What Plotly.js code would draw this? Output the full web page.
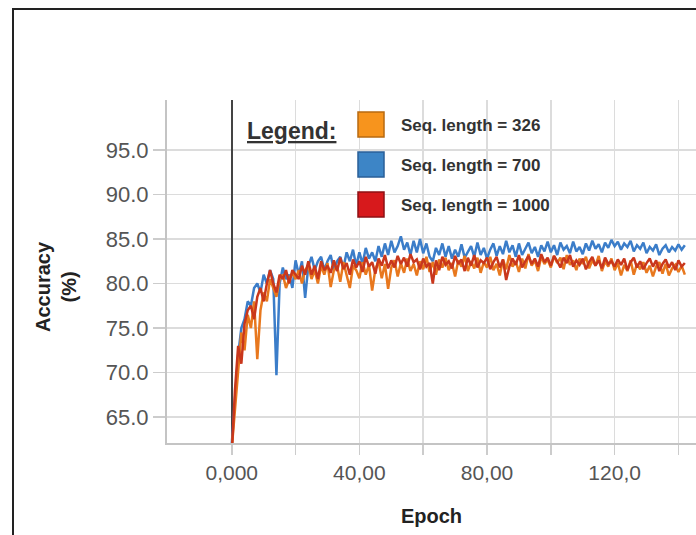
<!DOCTYPE html>
<html>
<head>
<meta charset="utf-8">
<script src="https://cdn.plot.ly/plotly-3.0.1.min.js"></script>
<style>
  html, body { margin: 0; padding: 0; background: #fff; overflow: hidden; }
  #wrap { position: relative; width: 696px; height: 535px; overflow: hidden; }
  #chart { width: 696px; height: 535px; }
  #probe { position: absolute; left: 684px; top: 12px; width: 12px; height: 86px; background: #fff; }
</style>
</head>
<body>
<div id="wrap">
<div id="chart"></div>
<div id="probe"></div>
</div>
<script>
// ---- Data ----
const seriesNames = ["Seq. length = 326", "Seq. length = 700", "Seq. length = 1000"];

const acc326 = [
  61.5, 66, 71, 74.5, 72.5, 76.5, 75, 78, 71.5, 77,
  79, 78, 80.5, 79.5, 78.5, 80.5, 81, 79.5, 80.5, 81.2,
  80.5, 81.5, 80, 81.5, 82, 80.5, 81.5, 80, 82, 81,
  82.3, 79.6, 81.5, 82, 80.2, 82.4, 81, 79.5, 82, 81.5,
  80.6, 82.4, 81, 82.1, 79.2, 81.6, 82.5, 80.6, 82.2, 79.4,
  81.8, 82.6, 80.8, 82.3, 81.2, 82.8, 81.4, 82.2, 80.9, 82.5,
  81.6, 83, 81.3, 82.4, 81, 82.7, 81.8, 82.9, 81.5, 82.3,
  80.8, 82.6, 81.9, 83.1, 81.4, 82.5, 81.7, 82.9, 81.2, 82.4,
  81.8, 83, 81.5, 82.2, 80.9, 82.7, 81.6, 83.2, 81.9, 82.5,
  81.3, 82.8, 81.7, 83.3, 82, 82.6, 81.4, 83, 82.2, 82.7,
  81.8, 83.1, 82.3, 82.9, 81.6, 83.2, 82.1, 82.6, 81.5, 82.8,
  82.2, 83, 81.7, 82.6, 82, 83.1, 81.4, 82.5, 81.9, 82.8,
  81.5, 82.3, 80.9, 82.1, 81.4, 82.6, 81, 82.2, 81.6, 82.4,
  81.2, 82, 80.8, 81.9, 82.4, 81.1, 82.2, 80.9, 81.7, 82.1,
  81.3, 82, 81
];

const acc700 = [
  62, 67, 72, 75, 76, 78, 77.5, 79.5, 80, 79,
  81, 80, 81.5, 80.5, 69.7, 80, 81.8, 80.5, 81, 79.5,
  82.6, 81, 82.5, 78.4, 82, 83, 81.5, 82.5, 83, 81.5,
  82.5, 83.2, 81.5, 82.5, 83, 81.8, 83.5, 82.5, 83.8, 82,
  83.5, 82.2, 84, 82.8, 83.5, 82.5, 84.2, 83, 84.5, 83.2,
  84.8, 83.5, 84.2, 85.3, 83.8, 84.6, 83.2, 84.8, 83.5, 85,
  83.4, 84.5, 83, 82.5, 84, 83.2, 84.5, 83, 84.2, 82.8,
  83.8, 83, 84.4, 82.9, 83.6, 84.2, 83, 84.6, 83.2, 84,
  82.8, 83.8, 84.5, 83.1, 84.2, 83.3, 84.8, 83.5, 84.3, 83,
  84.5, 83.2, 83.9, 84.6, 83.4, 84.1, 83, 84.3, 83.6, 84.7,
  83.5, 84.3, 83.2, 84.6, 83.8, 84.2, 83.4, 84.7, 83.6, 84.1,
  83.3, 84.5, 83.7, 84.8, 83.9, 84.4, 83.5, 84.6, 84, 84.9,
  84.2, 84.7, 83.8, 84.5, 84.1, 84.8, 83.6, 84.3, 83.9, 84.6,
  83.4, 84.1, 83.7, 84.4, 83.2, 83.9, 84.3, 83.5, 84.1, 83.7,
  84.4, 83.8, 84.3
];

const acc1000 = [
  61, 68, 73, 71, 75.5, 77, 77.5, 76, 78.5, 79.5,
  78, 80, 81.5, 80, 79, 81, 80.5, 81.5, 80, 81.5,
  81, 80.5, 82, 81, 82.5, 81, 82, 80.5, 82.5, 81.5,
  82, 81.2, 82.6, 81.4, 82.9, 81.6, 82.3, 81, 82.7, 81.8,
  82.5, 81.3, 83, 81.9, 82.4, 81.1, 82.8, 82, 83.2, 81.7,
  82.6, 81.8, 83.1, 82.2, 82.9, 81.9, 83.3, 82.4, 82.7, 81.6,
  82.8, 81.9, 82.3, 80, 82.6, 81.5, 83, 82.1, 82.5, 81.7,
  83.1, 82.2, 82.7, 81.4, 82.9, 82, 83.2, 81.8, 82.6, 82.3,
  82.9, 81.6, 82.4, 83, 81.8, 82.7, 80.4, 81.9, 82.8, 82.1,
  83.2, 81.8, 82.5, 83.1, 82.2, 82.8, 81.9, 83.3, 82.4, 82.9,
  82, 83.1, 82.5, 81.8, 82.9, 82.3, 83.2, 81.9, 82.6, 82.1,
  82.8, 81.6, 82.4, 83, 82, 82.6, 81.7, 82.9, 82.2, 82.5,
  81.9, 82.7, 82.1, 82.8, 81.5, 82.4, 82.9, 81.8, 82.5, 81.6,
  82.3, 82.8, 81.9, 82.6, 81.4, 82.2, 82.7, 81.8, 82.4, 81.5,
  82.6, 81.9, 82.3
];

const xTickVals = [0, 20, 40, 60, 80, 100, 120, 140];
const xTickText = ["0,000", "", "40,00", "", "80,00", "", "120,0", ""];
const yTickVals = [65, 70, 75, 80, 85, 90, 95];

// ---- Styles ----
const lineColors = ["#E8781E", "#3B7DC9", "#C9371C"];
const boxColors  = ["#F7941D", "#3D85C6", "#D7191C"];
const boxBorders = ["#B86A10", "#2A5F98", "#8E1014"];
const FONT = "Liberation Sans, Arial, sans-serif";

const epochs = acc326.map((_, i) => i);

function mk(y, idx) {
  return {
    x: epochs, y: y, type: "scatter", mode: "lines",
    name: seriesNames[idx], showlegend: false,
    line: { color: lineColors[idx], width: 2.5 },
    hoverinfo: "x+y"
  };
}
const data = [mk(acc700, 1), mk(acc326, 0), mk(acc1000, 2)];

// pixel -> paper helpers
const L = 167, R = 696, T = 100, B = 443;
const px = v => (v - L) / (R - L);
const py = v => (B - v) / (B - T);

const boxTops = [112, 152, 192];
const shapes = [
  { type: "line", xref: "paper", yref: "paper", x0: px(12), x1: px(700), y0: py(9), y1: py(9),
    line: { color: "#222", width: 2 } },
  { type: "line", xref: "paper", yref: "paper", x0: px(13), x1: px(13), y0: py(8), y1: py(540),
    line: { color: "#222", width: 2 } }
];
const annotations = [
  { xref: "paper", yref: "paper", x: px(245), y: py(131), xanchor: "left", yanchor: "middle",
    text: "<b><u>Legend:</u></b>", showarrow: false,
    font: { family: FONT, size: 23, color: "#333" } },
  { xref: "paper", yref: "paper", x: px(56), y: py(287), xanchor: "center", yanchor: "middle",
    text: "<b>Accuracy<br>(%)</b>", showarrow: false, textangle: -90,
    font: { family: FONT, size: 20, color: "#222" } }
];
[0, 1, 2].forEach(k => {
  shapes.push({
    type: "rect", xref: "paper", yref: "paper",
    x0: px(358), x1: px(384), y0: py(boxTops[k] + 25), y1: py(boxTops[k]),
    fillcolor: boxColors[k], line: { color: boxBorders[k], width: 1.5 }
  });
  annotations.push({
    xref: "paper", yref: "paper", x: px(399), y: py(boxTops[k] + 13),
    xanchor: "left", yanchor: "middle", showarrow: false,
    text: "<b>" + seriesNames[k] + "</b>",
    font: { family: FONT, size: 17, color: "#333" }
  });
});

const layout = {
  width: 696, height: 535,
  margin: { l: L, r: 0, t: T, b: 535 - B, pad: 0 },
  paper_bgcolor: "#fff", plot_bgcolor: "#fff",
  showlegend: false,
  font: { family: FONT, color: "#555" },
  xaxis: {
    range: [-20.3, 145.5],
    tickvals: xTickVals, ticktext: xTickText,
    tickfont: { size: 21, color: "#555" },
    showgrid: true, gridcolor: "#dcdcdc", gridwidth: 1.5,
    zeroline: true, zerolinecolor: "#444", zerolinewidth: 2,
    showline: true, linecolor: "#c4c4c4", linewidth: 2,
    ticks: "outside", ticklen: 10, tickcolor: "#ccc", tickwidth: 1.5,
    title: { text: "<b>Epoch</b>", font: { size: 20, color: "#222" }, standoff: 26 }
  },
  yaxis: {
    range: [62.1, 100.6],
    tickvals: yTickVals, tickformat: ".1f",
    tickfont: { size: 22, color: "#555" },
    showgrid: true, gridcolor: "#dcdcdc", gridwidth: 1.5,
    zeroline: false,
    showline: true, linecolor: "#c4c4c4", linewidth: 2,
    ticks: "outside", ticklen: 12, tickcolor: "#ccc", tickwidth: 1.5
  },
  shapes: shapes,
  annotations: annotations
};

Plotly.newPlot("chart", data, layout, { displayModeBar: false, staticPlot: true });
</script>
</body>
</html>
